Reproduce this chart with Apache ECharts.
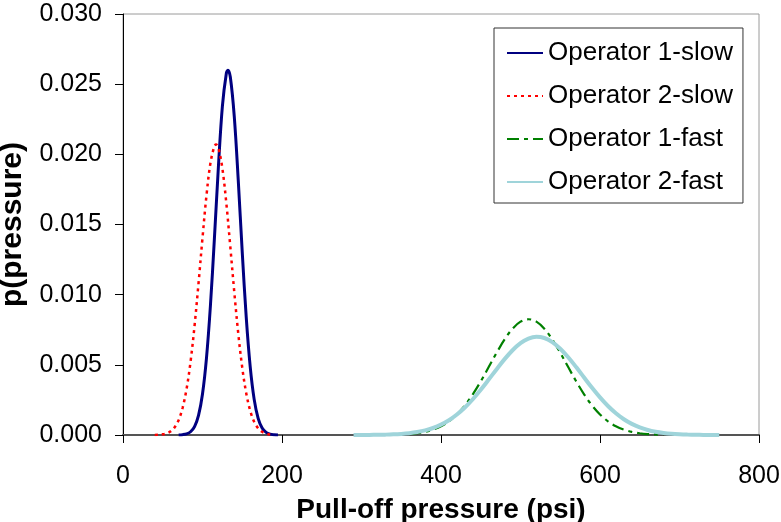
<!DOCTYPE html>
<html>
<head>
<meta charset="utf-8">
<script src="https://cdn.jsdelivr.net/npm/echarts@6/dist/echarts.min.js"></script>
<style>
  html, body { margin: 0; padding: 0; background: #fff; }
  #chart { width: 781px; height: 522px; }
</style>
</head>
<body>
<div id="chart"></div>
<script>
// Probability density of pull-off pressure, per operator and pull speed
const seriesNames = ['Operator 1-slow', 'Operator 2-slow', 'Operator 1-fast', 'Operator 2-fast'];

const op1SlowX = [70, 75, 80, 85, 90, 95, 100, 105, 110, 115, 120, 125, 130, 132, 135, 140, 145, 150, 155, 160, 165, 170, 175, 180, 185, 190, 195];
const op1SlowY = [0.000007, 0.000025, 0.000081, 0.000232, 0.000600, 0.001396, 0.002919, 0.005481, 0.009246, 0.014024, 0.019115, 0.023416, 0.025779, 0.026000, 0.025506, 0.022677, 0.018122, 0.013016, 0.008398, 0.004870, 0.002539, 0.001189, 0.000501, 0.000190, 0.000065, 0.000020, 0.000005];

const op2SlowX = [40, 45, 50, 55, 60, 65, 70, 75, 80, 85, 90, 95, 100, 105, 110, 115, 117, 120, 125, 130, 135, 140, 145, 150, 155, 160, 165, 170, 175, 180, 185, 190];
const op2SlowY = [0.000007, 0.000020, 0.000050, 0.000119, 0.000264, 0.000549, 0.001067, 0.001939, 0.003295, 0.005235, 0.007781, 0.010810, 0.014045, 0.017061, 0.019381, 0.020589, 0.020700, 0.020452, 0.018996, 0.016500, 0.013399, 0.010176, 0.007226, 0.004798, 0.002979, 0.001730, 0.000939, 0.000477, 0.000226, 0.000101, 0.000042, 0.000016];

const op1FastX = [360, 370, 380, 390, 400, 410, 420, 430, 440, 450, 460, 470, 480, 490, 500, 510, 520, 530, 540, 550, 560, 570, 580, 590, 600, 610, 620, 630, 640, 650, 660, 670, 680];
const op1FastY = [0.000068, 0.000126, 0.000224, 0.000382, 0.000623, 0.000976, 0.001464, 0.002105, 0.002899, 0.003826, 0.004839, 0.005863, 0.006808, 0.007575, 0.008076, 0.008250, 0.008076, 0.007575, 0.006808, 0.005863, 0.004839, 0.003826, 0.002899, 0.002105, 0.001464, 0.000976, 0.000623, 0.000382, 0.000224, 0.000126, 0.000068, 0.000035, 0.000017];

const op2FastX = [290, 300, 310, 320, 330, 340, 350, 360, 370, 380, 390, 400, 410, 420, 430, 440, 450, 460, 470, 480, 490, 500, 510, 520, 530, 540, 550, 560, 570, 580, 590, 600, 610, 620, 630, 640, 650, 660, 670, 680, 690, 700, 710, 720, 730, 740, 750];
const op2FastY = [0.000002, 0.000004, 0.000007, 0.000014, 0.000026, 0.000045, 0.000078, 0.000130, 0.000210, 0.000328, 0.000499, 0.000736, 0.001051, 0.001457, 0.001957, 0.002550, 0.003222, 0.003949, 0.004691, 0.005405, 0.006038, 0.006541, 0.006871, 0.006999, 0.006913, 0.006622, 0.006150, 0.005539, 0.004838, 0.004097, 0.003364, 0.002679, 0.002069, 0.001549, 0.001125, 0.000792, 0.000541, 0.000358, 0.000230, 0.000143, 0.000086, 0.000051, 0.000029, 0.000016, 0.000008, 0.000004, 0.000002];

const xTicks = [0, 200, 400, 600, 800];
const yTicks = [0, 0.005, 0.010, 0.015, 0.020, 0.025, 0.030];

const pairs = (xs, ys) => xs.map((x, i) => [x, ys[i]]);

const FONT = "'Liberation Sans', Arial, sans-serif";

const lineStyles = [
  { color: '#000080', width: 3, type: 'solid' },
  { color: '#FF0000', width: 2.5, type: [3, 4] },
  { color: '#008000', width: 2.2, type: [12, 5, 4, 5] },
  { color: '#9FD4DA', width: 4, type: 'solid' }
];
const seriesData = [
  pairs(op1SlowX, op1SlowY),
  pairs(op2SlowX, op2SlowY),
  pairs(op1FastX, op1FastY),
  pairs(op2FastX, op2FastY)
];

const chart = echarts.init(document.getElementById('chart'), null, { renderer: 'canvas' });

chart.setOption({
  animation: false,
  backgroundColor: '#ffffff',
  grid: {
    left: 123, right: 22, top: 14, bottom: 87,
    outerBoundsMode: 'none',
    containLabel: false,
    show: true, borderColor: '#9a9a9a', borderWidth: 1, backgroundColor: 'transparent'
  },
  legend: {
    orient: 'vertical',
    left: 494, top: 28,
    padding: [12, 10, 8, 12],
    itemGap: 17,
    itemWidth: 36, itemHeight: 14,
    itemTextGap: 5,
    borderColor: '#333333', borderWidth: 1,
    backgroundColor: '#ffffff',
    itemStyle: { opacity: 0 },
    textStyle: { fontFamily: FONT, fontSize: 26, color: '#000' },
    data: seriesNames
  },
  xAxis: {
    type: 'value',
    min: xTicks[0], max: xTicks[xTicks.length - 1], interval: 200,
    name: 'Pull-off pressure (psi)',
    nameLocation: 'middle', nameGap: 61,
    nameTextStyle: { fontFamily: FONT, fontSize: 28, fontWeight: 'bold', color: '#000' },
    axisLine: { show: true, onZero: false, lineStyle: { color: '#555555', width: 2 } },
    axisTick: { show: true, inside: false, length: 8, lineStyle: { color: '#000', width: 1 } },
    axisLabel: { margin: 29, fontFamily: FONT, fontSize: 25, color: '#000' },
    splitLine: { show: false }
  },
  yAxis: {
    type: 'value',
    min: yTicks[0], max: yTicks[yTicks.length - 1], interval: 0.005,
    name: 'p(pressure)',
    nameLocation: 'middle', nameGap: 95,
    nameTextStyle: { fontFamily: FONT, fontSize: 30, fontWeight: 'bold', color: '#000' },
    axisLine: { show: true, onZero: false, lineStyle: { color: '#000', width: 1 } },
    axisTick: { show: true, inside: false, length: 8, lineStyle: { color: '#000', width: 1 } },
    axisLabel: { margin: 21, fontFamily: FONT, fontSize: 25, color: '#000', formatter: v => v.toFixed(3) },
    splitLine: { show: false }
  },
  series: seriesNames.map((name, i) => ({
    name,
    type: 'line',
    data: seriesData[i],
    showSymbol: false,
    symbol: 'none',
    smooth: 0.35,
    lineStyle: lineStyles[i],
    itemStyle: { color: lineStyles[i].color },
    z: 3 + i
  }))
});
</script>
</body>
</html>
